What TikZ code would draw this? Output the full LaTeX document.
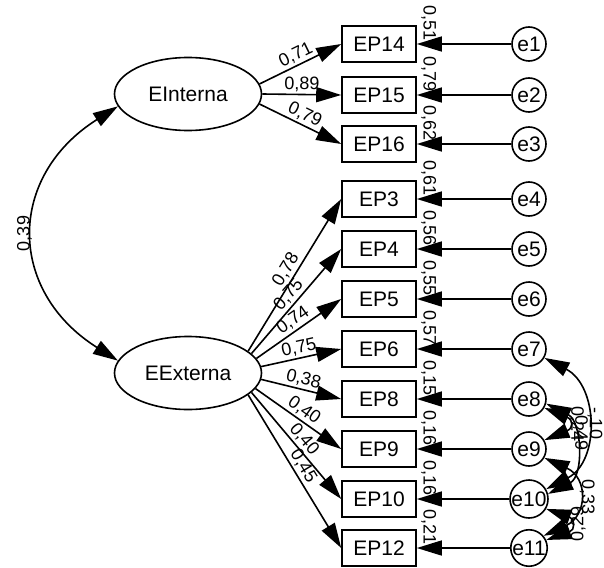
\documentclass[tikz,border=0pt]{standalone}
\usepackage{fontspec}
\setmainfont{Liberation Sans}
\usetikzlibrary{arrows.meta,shapes.geometric}

\begin{document}
\begin{tikzpicture}[x=1pt, y=-1pt, line width=1.6pt,
    >={Triangle[length=25pt,width=15pt]},
    latent/.style = {shape=ellipse, draw, fill=white, minimum width=147pt,
      minimum height=73pt, inner sep=0pt, font=\fontsize{21}{24}\selectfont},
    item/.style = {shape=rectangle, draw, minimum width=74pt, minimum height=36pt,
      inner sep=0pt, font=\fontsize{21}{24}\selectfont},
    err/.style = {shape=circle, draw, minimum size=34pt, inner sep=0pt,
      font=\fontsize{21}{24}\selectfont},
    coef/.style = {font=\fontsize{18}{20}\selectfont, inner sep=2pt}]
  \useasboundingbox (0,0) rectangle (604,567);

  % factors
  \node[latent] (EInterna) at (188,94) {EInterna};
  \node[latent] (EExterna) at (188,373) {EExterna};

  % items with their errors
  \foreach \n/\e/\y/\r in {EP14/e1/44/{0,51}, EP15/e2/95/{0,79}, EP16/e3/144/{0,62},
      EP3/e4/199/{0,61}, EP4/e5/249/{0,56}, EP5/e6/299/{0,55}, EP6/e7/349/{0,57},
      EP8/e8/399/{0,15}, EP9/e9/449/{0,16}, EP10/e10/499/{0,16}, EP12/e11/548/{0,21}}{
    \node[item] (\n) at (379,\y) {\n};
    \node[err] (\e) at (529,\y) {\e};
    \draw[->] (\e) -- (\n);
    \node[coef, rotate=-90] at ([xshift=12pt,yshift=2pt]\n.north east) {\r};
  }

  % loadings
  \foreach \n/\a/\l in {EP14/8/{0,71}, EP15/0/{0,89}, EP16/-8/{0,79}}
    \draw[->] (EInterna.\a) -- node[coef, sloped, above] {\l} (\n.west);
  \foreach \n/\a/\l in {EP3/20/{0,78}, EP4/17/{0,75}, EP5/12/{0,74}, EP6/5/{0,75},
      EP8/-5/{0,38}, EP9/-13/{0,40}, EP10/-17/{0,40}, EP12/-20/{0,45}}
    \draw[->] (EExterna.\a) -- node[coef, sloped, above] {\l} (\n.west);

  % covariances
  \draw[<->] (EInterna.190) .. controls +(-111,70) and +(-111,-70) .. (EExterna.170)
    node[coef, midway, rotate=90, anchor=south] {0,39};
  \draw[<->] (e7.-30) .. controls +(54,28) and +(54,-28) .. (e10.30)
    node[coef, midway, rotate=-90, anchor=south, inner sep=1pt] {-,10};
  \draw[<->] (e8.-30) .. controls +(29,12) and +(29,-12) .. (e9.30)
    node[coef, midway, rotate=-90, anchor=south] {0,24};
  \draw[<->] (e8.-15) .. controls +(36,18) and +(36,-18) .. (e10.15)
    node[coef, pos=0.35, rotate=-90, anchor=south, inner sep=1pt] {0,49};
  \draw[<->] (e9.-30) .. controls +(44,20) and +(44,-20) .. (e11.40)
    node[coef, midway, rotate=-90, anchor=south] {0,33};
  \draw[<->] (e10.-30) .. controls +(29,10) and +(29,-10) .. (e11.25)
    node[coef, midway, rotate=90, anchor=north] {0,29};
\end{tikzpicture}
\end{document}
